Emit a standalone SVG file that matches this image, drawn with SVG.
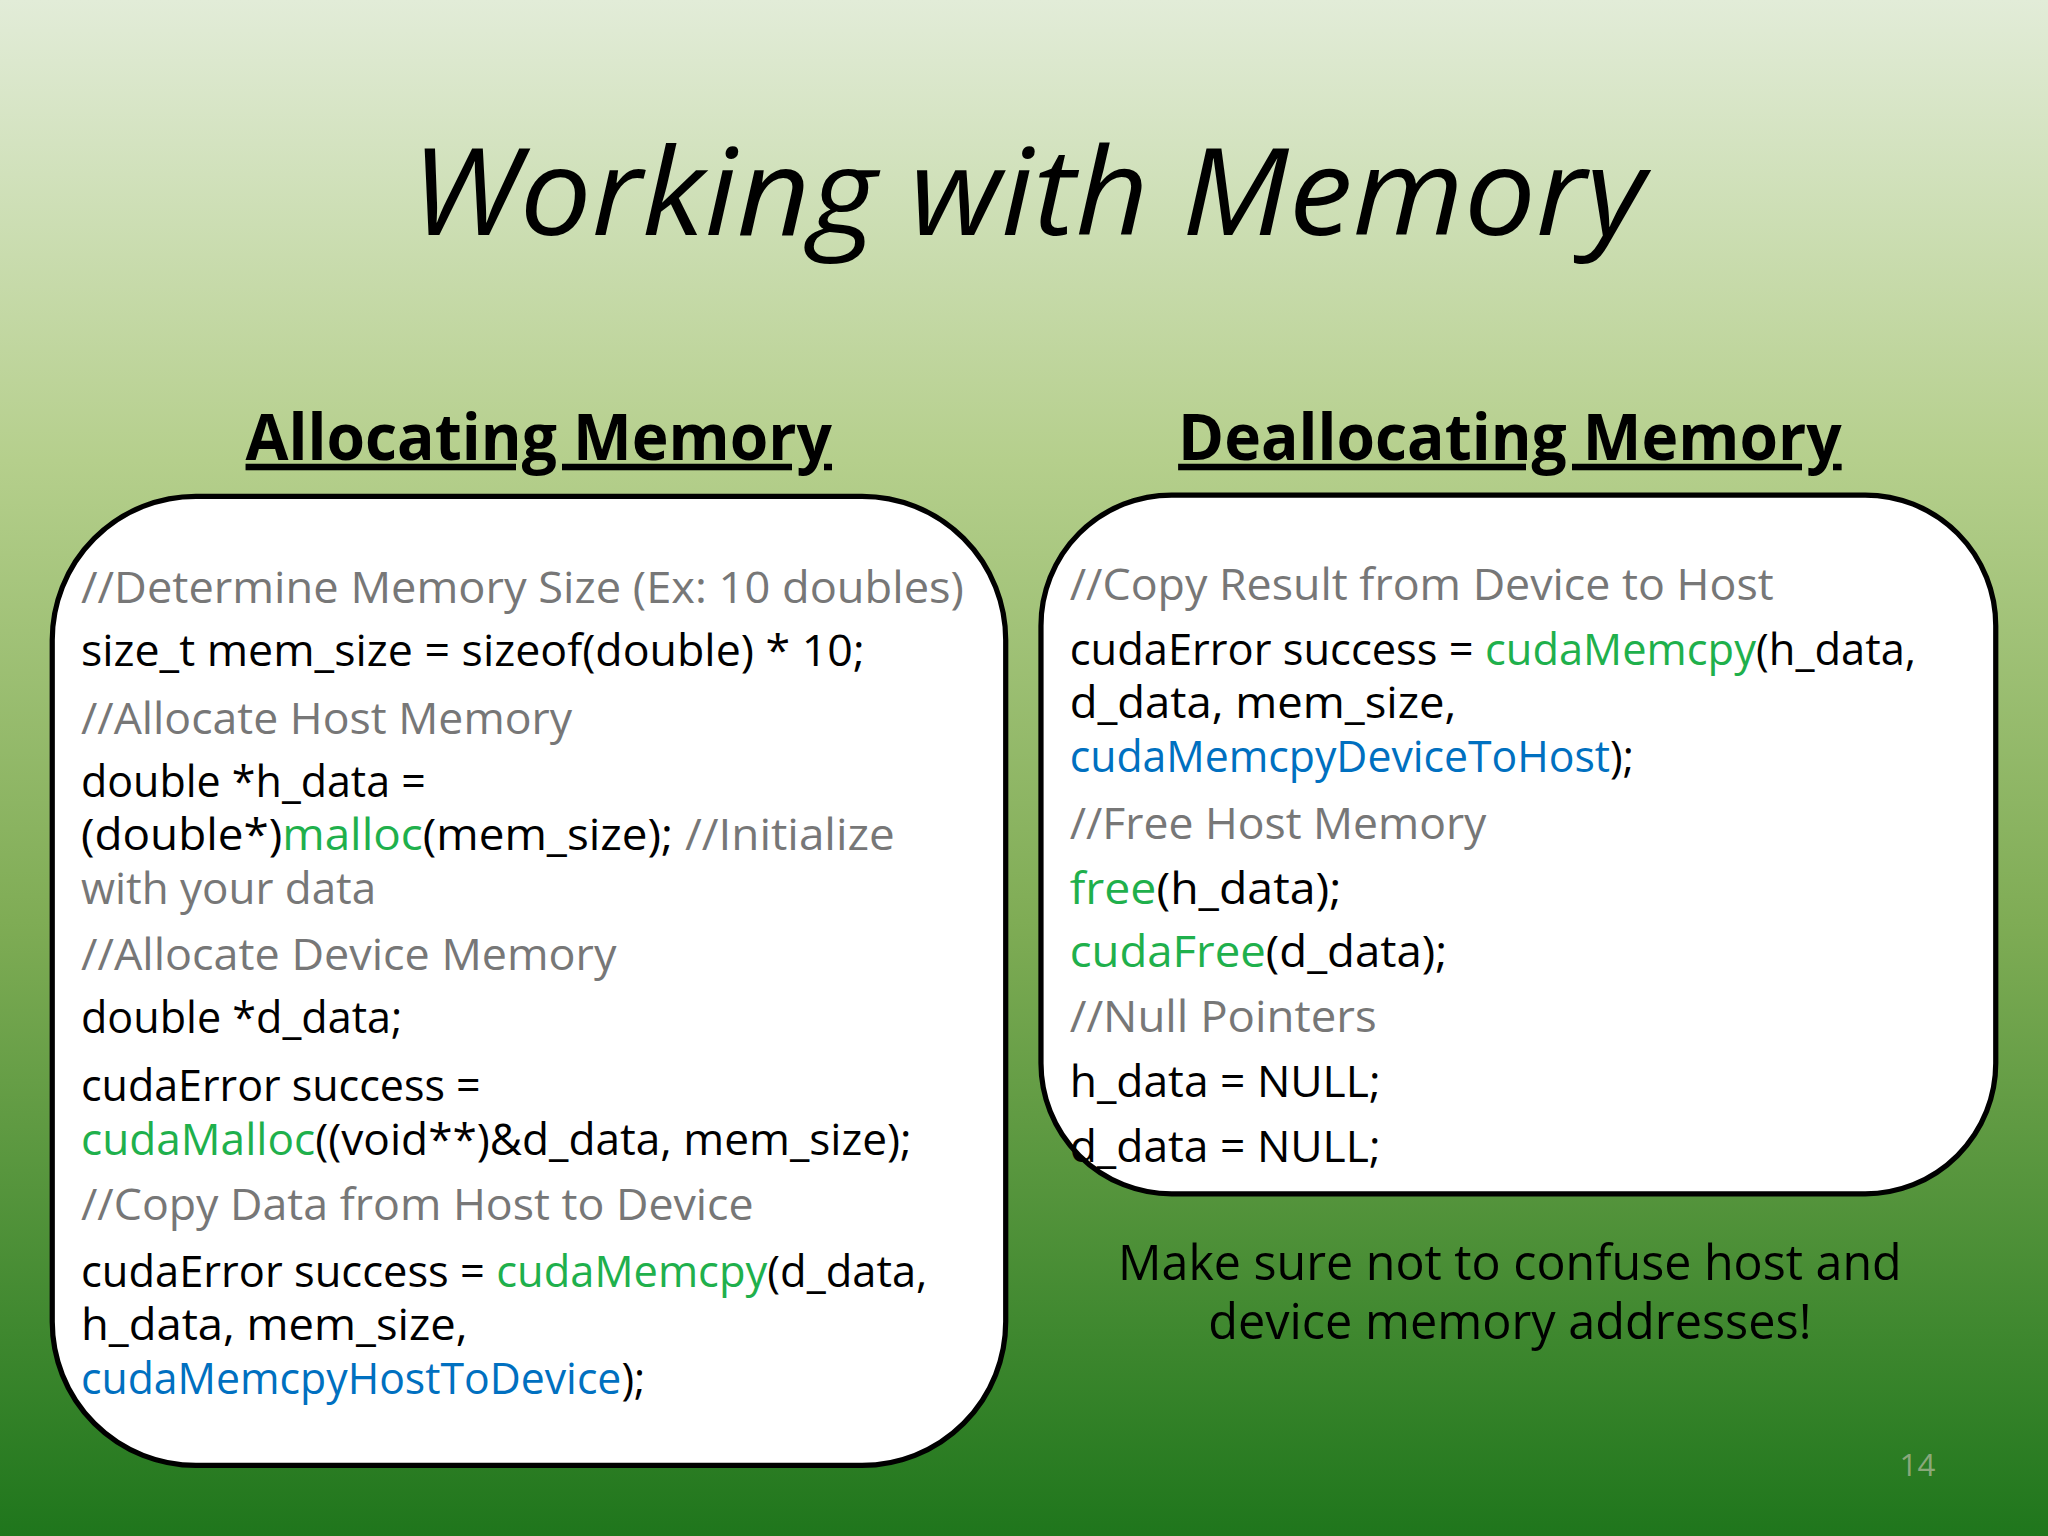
<svg xmlns="http://www.w3.org/2000/svg" width="2048" height="1536" viewBox="0 0 2048 1536">
<defs>
<linearGradient id="bg" x1="0" y1="0" x2="0" y2="1">
<stop offset="0" stop-color="#e2ecd8"/>
<stop offset="0.3" stop-color="#b5cf8c"/>
<stop offset="0.6" stop-color="#7fac55"/>
<stop offset="1" stop-color="#1f761c"/>
</linearGradient>
<style>
.c{font-family:"Open Sans","Liberation Sans",sans-serif;font-size:33px;fill:#000}
.g{fill:#777}
.gr{fill:#1fb04c}
.b{fill:#0070c0}
.h{font-family:"Open Sans","Liberation Sans",sans-serif;font-size:50px;font-weight:bold;text-decoration:underline}
.box{fill:#fff;stroke:#000;stroke-width:4}
</style>
</defs>
<rect width="2048" height="1536" fill="url(#bg)"/>
<g transform="scale(1.30612)">
<text x="787" y="180" text-anchor="middle" font-family="Open Sans, Liberation Sans, sans-serif" font-style="italic" font-size="92" textLength="945" lengthAdjust="spacingAndGlyphs">Working with Memory</text>
<text class="h" x="188" y="352" textLength="449" lengthAdjust="spacingAndGlyphs">Allocating Memory</text>
<text class="h" x="902" y="352" textLength="508" lengthAdjust="spacingAndGlyphs">Deallocating Memory</text>
<g id="alloc">
<rect class="box" x="40" y="380" width="730" height="742" rx="110"/>
<text class="c g" x="62" y="462" textLength="676" lengthAdjust="spacingAndGlyphs">//Determine Memory Size (Ex:  10 doubles)</text>
<text class="c" x="62" y="510" textLength="600" lengthAdjust="spacingAndGlyphs">size_t mem_size = sizeof(double) * 10;</text>
<text class="c g" x="62" y="562" textLength="376" lengthAdjust="spacingAndGlyphs">//Allocate Host Memory</text>
<text class="c" x="62" y="610" textLength="264" lengthAdjust="spacingAndGlyphs">double *h_data =</text>
<text class="c" x="62" y="651" textLength="623" lengthAdjust="spacingAndGlyphs">(double*)<tspan class="gr">malloc</tspan>(mem_size); <tspan class="g">//Initialize</tspan></text>
<text class="c g" x="62" y="692" textLength="226" lengthAdjust="spacingAndGlyphs">with your data</text>
<text class="c g" x="62" y="743" textLength="410" lengthAdjust="spacingAndGlyphs">//Allocate Device Memory</text>
<text class="c" x="62" y="791" textLength="246" lengthAdjust="spacingAndGlyphs">double *d_data;</text>
<text class="c" x="62" y="843" textLength="306" lengthAdjust="spacingAndGlyphs">cudaError success =</text>
<text class="c" x="62" y="884" textLength="636" lengthAdjust="spacingAndGlyphs"><tspan class="gr">cudaMalloc</tspan>((void**)&amp;d_data, mem_size);</text>
<text class="c g" x="62" y="934" textLength="515" lengthAdjust="spacingAndGlyphs">//Copy Data from Host to Device</text>
<text class="c" x="62" y="985" textLength="648" lengthAdjust="spacingAndGlyphs">cudaError success = <tspan class="gr">cudaMemcpy</tspan>(d_data,</text>
<text class="c" x="62" y="1026" textLength="296" lengthAdjust="spacingAndGlyphs">h_data, mem_size,</text>
<text class="c" x="62" y="1067" textLength="432" lengthAdjust="spacingAndGlyphs"><tspan class="b">cudaMemcpyHostToDevice</tspan>);</text>
</g>
<g id="dealloc">
<rect class="box" x="797" y="379" width="731" height="535" rx="100"/>
<text class="c g" x="819" y="459" textLength="539" lengthAdjust="spacingAndGlyphs">//Copy Result from Device to Host</text>
<text class="c" x="819" y="509" textLength="648" lengthAdjust="spacingAndGlyphs">cudaError success = <tspan class="gr">cudaMemcpy</tspan>(h_data,</text>
<text class="c" x="819" y="550" textLength="296" lengthAdjust="spacingAndGlyphs">d_data, mem_size,</text>
<text class="c" x="819" y="591" textLength="432" lengthAdjust="spacingAndGlyphs"><tspan class="b">cudaMemcpyDeviceToHost</tspan>);</text>
<text class="c g" x="819" y="642" textLength="319" lengthAdjust="spacingAndGlyphs">//Free Host Memory</text>
<text class="c" x="819" y="692" textLength="208" lengthAdjust="spacingAndGlyphs"><tspan class="gr">free</tspan>(h_data);</text>
<text class="c" x="819" y="740" textLength="289" lengthAdjust="spacingAndGlyphs"><tspan class="gr">cudaFree</tspan>(d_data);</text>
<text class="c g" x="819" y="790" textLength="235" lengthAdjust="spacingAndGlyphs">//Null Pointers</text>
<text class="c" x="819" y="840" textLength="238" lengthAdjust="spacingAndGlyphs">h_data = NULL;</text>
<text class="c" x="819" y="890" textLength="238" lengthAdjust="spacingAndGlyphs">d_data = NULL;</text>
</g>
<text x="1156" y="980" text-anchor="middle" font-family="Open Sans, Liberation Sans, sans-serif" font-size="38" textLength="600" lengthAdjust="spacingAndGlyphs">Make sure not to confuse host and</text>
<text x="1156" y="1025" text-anchor="middle" font-family="Open Sans, Liberation Sans, sans-serif" font-size="38" textLength="462" lengthAdjust="spacingAndGlyphs">device memory addresses!</text>
<text x="1468" y="1130" text-anchor="middle" font-family="Open Sans, Liberation Sans, sans-serif" font-size="24" fill="#8aa87a">14</text>
</g>
</svg>
